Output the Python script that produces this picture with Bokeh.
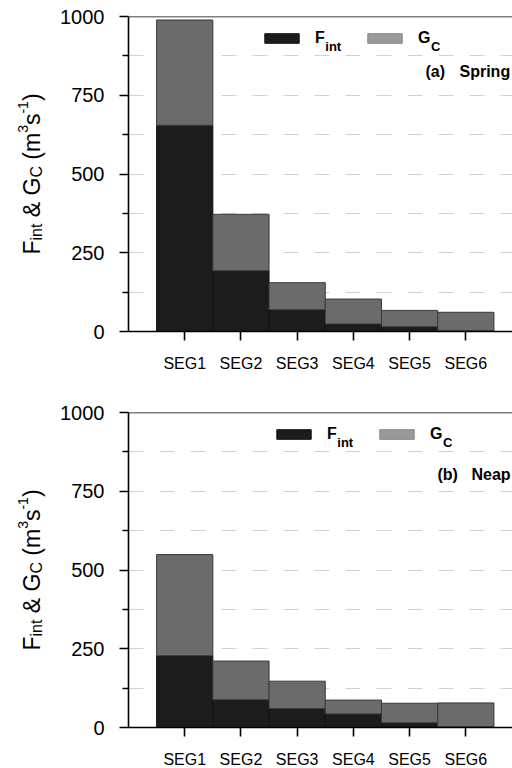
import math
from bokeh.plotting import figure
from bokeh.models import (ColumnDataSource, FixedTicker, Label, Legend, LegendItem,
                          Span, Range1d)
from bokeh.layouts import column, row
from bokeh.core.properties import value
from bokeh.embed import file_html
from bokeh.resources import INLINE

# ---------------- data ----------------
segments = ["SEG1", "SEG2", "SEG3", "SEG4", "SEG5", "SEG6"]
spring_fint = [655, 193, 69, 24, 15, 2]
spring_gc = [334, 179, 86, 79, 52, 59]
neap_fint = [228, 88, 60, 43, 15, 2]
neap_gc = [321, 123, 87, 44, 62, 76]
y_ticks = [0, 250, 500, 750, 1000]
y_minor = [125, 375, 625, 875]
panel_tags = ["(a)", "(b)"]
panel_names = ["Spring", "Neap"]
# axis title "F_int & G_C (m^3 s^-1)" split into pieces
title_parts = ["F", "int", "&", "G", "C", "(m", "3", "s", "-1", ")"]
title_kind = ["main", "sub", "main", "main", "sub", "main", "sup", "main", "sup", "main"]
title_gap_before = [0, 0, 1, 1, 0, 1, 0, 0, 0, 0]   # number of spaces before each piece

FONT = "Liberation Sans"
FRAME_W, FRAME_H = 384, 315
TITLE_W = 50
LEFT = 128

# Arial / Liberation Sans advance widths (per 1000 em) for composing the title
ADV = {"F": 611, "i": 222, "n": 556, "t": 278, " ": 278, "&": 667, "G": 778,
       "C": 722, "(": 333, "m": 833, "3": 556, "s": 500, "-": 333, "1": 556, ")": 333}
SIZES = {"main": 23, "sub": 16, "sup": 14}
SHIFT = {"main": 0, "sub": 5, "sup": -9}


def text_w(s, size):
    return sum(ADV[c] for c in s) * size / 1000.0


def make_title_fig(top_border, bottom_border):
    t = figure(frame_width=TITLE_W, frame_height=FRAME_H, x_range=Range1d(0, TITLE_W),
               y_range=Range1d(0, FRAME_H), output_backend="svg", toolbar_location=None,
               x_axis_location=None, y_axis_location=None,
               min_border_left=0, min_border_right=0,
               min_border_top=top_border, min_border_bottom=bottom_border)
    t.outline_line_color = None
    t.grid.visible = False
    sizes = [SIZES[k] for k in title_kind]
    space = text_w(" ", SIZES["main"])
    steps = [g * space + text_w(s, z) for s, z, g in zip(title_parts, sizes, title_gap_before)]
    total = sum(steps)
    y = FRAME_H / 2 - total / 2
    xs, ys = [], []
    for k, s, z, g in zip(title_kind, title_parts, sizes, title_gap_before):
        y += g * space
        xs.append(31 + SHIFT[k])
        ys.append(y)
        y += text_w(s, z)
    src = ColumnDataSource(dict(x=xs, y=ys, text=title_parts,
                                size=[f"{z}px" for z in sizes]))
    t.text(x="x", y="y", text="text", source=src, angle=math.pi / 2,
           text_font=value(FONT), text_font_size="size", text_color="black",
           text_baseline="alphabetic", text_align="left")
    return t


def make_panel(fint, gc, tag, name, top_border, bottom_border, leg_x, tag_dy):
    xs = list(range(1, len(segments) + 1))
    src = ColumnDataSource(dict(x=xs, fint=fint, gc=gc))
    p = figure(frame_width=FRAME_W, frame_height=FRAME_H,
               x_range=Range1d(0, 6.83), y_range=Range1d(0, 1000),
               output_backend="svg", toolbar_location=None,
               min_border_left=LEFT - TITLE_W, min_border_right=0,
               min_border_top=top_border, min_border_bottom=bottom_border)
    p.outline_line_color = None
    p.background_fill_color = "white"
    p.border_fill_color = "white"

    # grid
    p.xgrid.visible = False
    p.ygrid.ticker = FixedTicker(ticks=y_minor + y_ticks[1:-1])
    p.ygrid.grid_line_color = "#d2d2d2"
    p.ygrid.grid_line_dash = "15 16"
    p.ygrid.grid_line_width = 1

    rs = p.vbar_stack(["fint", "gc"], x="x", width=1, source=src,
                      fill_color=["#1c1c1c", "#6b6b6b"],
                      line_color=["#111111", "#3a3a3a"], line_width=1)
    # hidden renderer that only supplies the lighter legend swatch for G_C
    legend_gc = p.vbar(x="x", top="gc", width=1, source=src, fill_color="#9a9a9a",
                       line_color="#858585", visible=False)

    # top border
    p.add_layout(Span(location=1000, dimension="width", line_color="black", line_width=1.6))

    # y axis
    ya = p.yaxis[0]
    ya.ticker = FixedTicker(ticks=y_ticks, minor_ticks=y_minor)
    ya.axis_line_width = 1.6
    ya.axis_line_color = "black"
    ya.major_tick_line_width = 1.6
    ya.minor_tick_line_width = 1.6
    ya.major_tick_out = 9
    ya.major_tick_in = 0
    ya.minor_tick_out = 6
    ya.minor_tick_in = 0
    ya.major_label_text_font = FONT
    ya.major_label_text_font_size = "20px"
    ya.major_label_text_color = "black"
    ya.major_label_standoff = 15

    # x axis
    xa = p.xaxis[0]
    xa.ticker = FixedTicker(ticks=xs)
    xa.major_label_overrides = {x: s for x, s in zip(xs, segments)}
    xa.axis_line_width = 1.6
    xa.axis_line_color = "black"
    xa.major_tick_line_width = 1.6
    xa.major_tick_out = 9
    xa.major_tick_in = 0
    xa.minor_tick_line_color = None
    xa.major_label_text_font = FONT
    xa.major_label_text_font_size = "16px"
    xa.major_label_text_color = "black"
    xa.major_label_standoff = 14

    # legend
    leg = Legend(items=[LegendItem(label="F", renderers=[rs[0]]),
                        LegendItem(label="G", renderers=[legend_gc])],
                 orientation="horizontal", location=(leg_x, FRAME_H - 31),
                 glyph_width=43, glyph_height=12, label_standoff=12,
                 label_width=10, label_height=12, spacing=38, padding=0, margin=0,
                 border_line_color=None, background_fill_alpha=0,
                 label_text_font=FONT, label_text_font_style="bold",
                 label_text_font_size="16px", label_text_color="black")
    p.add_layout(leg)
    # subscripts in legend
    f_x = leg_x + 43 + 12
    g_x = f_x + 10 + 38 + 43 + 12
    for txt, x0, w in (("int", f_x, 611), ("C", g_x, 778)):
        p.add_layout(Label(x=x0 + w * 16 / 1000, y=FRAME_H - 30, x_units="screen",
                           y_units="screen", text=txt, text_font=FONT,
                           text_font_style="bold", text_font_size="13px",
                           text_baseline="alphabetic", text_color="black"))

    # panel tag
    p.add_layout(Label(x=leg_x + 165, y=FRAME_H - tag_dy, x_units="screen", y_units="screen",
                       text=tag, text_font=FONT, text_font_style="bold", text_color="black",
                       text_font_size="16px", text_baseline="alphabetic"))
    p.add_layout(Label(x=leg_x + 199, y=FRAME_H - tag_dy, x_units="screen", y_units="screen",
                       text=name, text_font=FONT, text_font_style="bold", text_color="black",
                       text_font_size="16px", text_baseline="alphabetic"))
    return p


p1 = make_panel(spring_fint, spring_gc, panel_tags[0], panel_names[0], 16, 53, 132, 55)
p2 = make_panel(neap_fint, neap_gc, panel_tags[1], panel_names[1], 28, 41, 144, 62)
t1 = make_title_fig(16, 53)
t2 = make_title_fig(28, 41)

layout = column(row(t1, p1, spacing=0), row(t2, p2, spacing=0), spacing=0)
open("out.html", "w").write(file_html(layout, INLINE))
